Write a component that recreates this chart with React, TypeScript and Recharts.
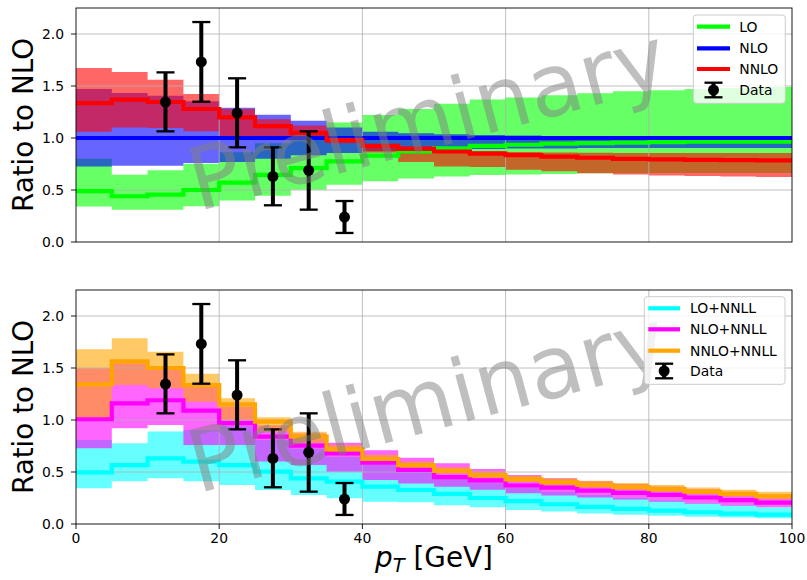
import React from 'react';
import { ComposedChart, Area, Line, Scatter, ErrorBar, XAxis, YAxis, ReferenceLine } from 'recharts';

const FONT = '"DejaVu Sans", Verdana, sans-serif';

// bin left edges (GeV), last edge at 100
const binLeft = [0, 5, 10, 15, 20, 25, 30, 35, 40, 45, 50, 55, 60, 65, 70, 75, 80, 85, 90, 95];
const xEnd = 100;
const xTicks = [0, 20, 40, 60, 80, 100];
const yTicks = [0, 0.5, 1.0, 1.5, 2.0];

// ---- top panel: fixed order ----
const loC = [0.49, 0.44, 0.455, 0.5, 0.57, 0.645, 0.71, 0.775, 0.83, 0.87, 0.9, 0.925, 0.935, 0.945, 0.95, 0.955, 0.96, 0.965, 0.965, 0.965];
const loHi = [0.8, 0.647, 0.689, 0.753, 0.862, 0.95, 1.05, 1.15, 1.22, 1.28, 1.33, 1.37, 1.39, 1.41, 1.43, 1.45, 1.46, 1.47, 1.48, 1.49];
const loLo = [0.342, 0.31, 0.31, 0.343, 0.4, 0.445, 0.503, 0.55, 0.583, 0.61, 0.63, 0.645, 0.65, 0.655, 0.66, 0.66, 0.663, 0.663, 0.663, 0.663];

const nloC = [1, 1, 1, 1, 1, 1, 1, 1, 1, 1, 1, 1, 1, 1, 1, 1, 1, 1, 1, 1];
const nloHi = [1.47, 1.433, 1.407, 1.353, 1.29, 1.224, 1.166, 1.1, 1.06, 1.045, 1.035, 1.03, 1.025, 1.02, 1.02, 1.02, 1.02, 1.02, 1.02, 1.02];
const nloLo = [0.727, 0.734, 0.734, 0.76, 0.77, 0.8, 0.835, 0.855, 0.875, 0.885, 0.89, 0.895, 0.9, 0.9, 0.905, 0.905, 0.905, 0.905, 0.905, 0.905];

const nnloC = [1.336, 1.369, 1.346, 1.279, 1.199, 1.115, 1.05, 0.98, 0.925, 0.895, 0.87, 0.85, 0.835, 0.82, 0.81, 0.8, 0.795, 0.79, 0.787, 0.785];
const nnloHi = [1.673, 1.635, 1.561, 1.423, 1.28, 1.18, 1.12, 1.0, 0.94, 0.92, 0.895, 0.875, 0.865, 0.86, 0.857, 0.855, 0.855, 0.855, 0.855, 0.855];
const nnloLo = [1.06, 1.1, 1.096, 1.064, 1.016, 1.01, 1.0, 0.95, 0.86, 0.77, 0.727, 0.72, 0.695, 0.68, 0.66, 0.65, 0.64, 0.635, 0.63, 0.625];

// ---- bottom panel: matched to NNLL ----
const loResC = [0.497, 0.567, 0.631, 0.6, 0.567, 0.503, 0.439, 0.407, 0.359, 0.327, 0.29, 0.25, 0.22, 0.19, 0.165, 0.145, 0.128, 0.113, 0.1, 0.09];
const loResHi = [0.808, 0.776, 0.89, 0.904, 0.94, 0.81, 0.727, 0.647, 0.567, 0.505, 0.45, 0.4, 0.35, 0.31, 0.28, 0.25, 0.225, 0.2, 0.18, 0.16];
const loResLo = [0.343, 0.41, 0.439, 0.41, 0.375, 0.327, 0.279, 0.247, 0.215, 0.21, 0.18, 0.16, 0.135, 0.12, 0.1, 0.09, 0.08, 0.07, 0.062, 0.055];

const nloResC = [1.007, 1.16, 1.19, 1.09, 0.97, 0.84, 0.753, 0.68, 0.59, 0.52, 0.45, 0.42, 0.37, 0.35, 0.32, 0.3, 0.28, 0.255, 0.23, 0.205];
const nloResHi = [1.497, 1.545, 1.487, 1.33, 1.13, 0.95, 0.87, 0.782, 0.71, 0.638, 0.585, 0.53, 0.47, 0.44, 0.41, 0.385, 0.36, 0.335, 0.31, 0.285];
const nloResLo = [0.728, 0.92, 0.952, 0.76, 0.76, 0.6, 0.567, 0.503, 0.423, 0.39, 0.358, 0.33, 0.295, 0.275, 0.255, 0.235, 0.215, 0.195, 0.175, 0.16];

const nnloResC = [1.343, 1.564, 1.5, 1.335, 1.15, 0.985, 0.84, 0.718, 0.625, 0.565, 0.51, 0.47, 0.43, 0.4, 0.375, 0.355, 0.335, 0.31, 0.29, 0.265];
const nnloResHi = [1.68, 1.785, 1.657, 1.445, 1.21, 1.026, 0.888, 0.76, 0.665, 0.6, 0.545, 0.505, 0.465, 0.44, 0.415, 0.395, 0.375, 0.35, 0.33, 0.31];
const nnloResLo = [1.02, 1.337, 1.305, 1.176, 1.0, 0.888, 0.78, 0.67, 0.59, 0.535, 0.485, 0.445, 0.405, 0.375, 0.35, 0.33, 0.31, 0.285, 0.265, 0.24];

// ---- data points ----
const dataX = [12.5, 17.5, 22.5, 27.5, 32.5, 37.5];
const dataY = [1.346, 1.731, 1.24, 0.631, 0.689, 0.24];
const dataUp = [1.631, 2.115, 1.574, 0.91, 1.064, 0.394];
const dataDown = [1.064, 1.349, 0.91, 0.353, 0.311, 0.087];

type Spec = { key: string; label: string; color: string; c: number[]; lo: number[]; hi: number[] };

const topSpecs: Spec[] = [
  { key: 'lo', label: 'LO', color: '#00ff00', c: loC, lo: loLo, hi: loHi },
  { key: 'nlo', label: 'NLO', color: '#0000ff', c: nloC, lo: nloLo, hi: nloHi },
  { key: 'nnlo', label: 'NNLO', color: '#ff0000', c: nnloC, lo: nnloLo, hi: nnloHi },
];
const botSpecs: Spec[] = [
  { key: 'lor', label: 'LO+NNLL', color: '#00ffff', c: loResC, lo: loResLo, hi: loResHi },
  { key: 'nlor', label: 'NLO+NNLL', color: '#ff00ff', c: nloResC, lo: nloResLo, hi: nloResHi },
  { key: 'nnlor', label: 'NNLO+NNLL', color: '#ffa500', c: nnloResC, lo: nnloResLo, hi: nnloResHi },
];

function buildRows(specs: Spec[]) {
  const xs = [...binLeft, xEnd];
  return xs.map((x, j) => {
    const i = Math.min(j, binLeft.length - 1);
    const row: any = { x };
    specs.forEach((s) => {
      row[s.key] = s.c[i];
      row[s.key + 'Band'] = [s.lo[i], s.hi[i]];
    });
    return row;
  });
}

const points = dataX.map((x, i) => ({ x, y: dataY[i], err: [dataY[i] - dataDown[i], dataUp[i] - dataY[i]] }));

const tickStyle = { fill: '#000', fontSize: 13.9, fontFamily: FONT };

function Panel({ specs, top, height, xAxisHeight, showXLabels }: { specs: Spec[]; top: number; height: number; xAxisHeight: number; showXLabels: boolean }) {
  const rows = buildRows(specs);
  return (
    <div style={{ position: 'absolute', left: 0, top, width: 807, height }}>
      <ComposedChart width={807} height={height} data={rows} margin={{ top: 8, right: 15, bottom: 0, left: 0 }}>
        <XAxis
          dataKey="x"
          type="number"
          domain={[0, 100]}
          ticks={xTicks}
          interval={0}
          height={xAxisHeight}
          axisLine={false}
          tickLine={{ stroke: '#000', strokeWidth: 0.9 }}
          tickSize={5}
          tickMargin={4}
          tick={showXLabels ? tickStyle : false}
          allowDataOverflow
        />
        <YAxis
          type="number"
          domain={[0, 2.25]}
          ticks={yTicks}
          interval={0}
          width={76}
          axisLine={false}
          tickLine={{ stroke: '#000', strokeWidth: 0.9 }}
          tickSize={5}
          tickMargin={7}
          tick={tickStyle}
          tickFormatter={(v: number) => v.toFixed(1)}
          allowDataOverflow
        />
        {specs.map((s) => (
          <Area
            key={s.key + 'Band'}
            type="stepAfter"
            dataKey={s.key + 'Band'}
            stroke="none"
            fill={s.color}
            fillOpacity={0.6}
            dot={false}
            activeDot={false}
            isAnimationActive={false}
          />
        ))}
        {[20, 40, 60, 80].map((v) => (
          <ReferenceLine key={'gx' + v} x={v} stroke="#b0b0b0" strokeWidth={0.8} />
        ))}
        {[0.5, 1.0, 1.5, 2.0].map((v) => (
          <ReferenceLine key={'gy' + v} y={v} stroke="#b0b0b0" strokeWidth={0.8} />
        ))}
        {specs.map((s) => (
          <Line
            key={s.key}
            type="stepAfter"
            dataKey={s.key}
            stroke={s.color}
            strokeWidth={4.2}
            dot={false}
            activeDot={false}
            isAnimationActive={false}
          />
        ))}
        <Scatter
          data={points}
          dataKey="y"
          fill="#000"
          isAnimationActive={false}
          shape={(p: any) => <circle cx={p.cx} cy={p.cy} r={5.5} fill="#000" />}
        >
          <ErrorBar dataKey="err" direction="y" width={0} stroke="#000" strokeWidth={4} />
          <ErrorBar dataKey="err" direction="y" width={9} stroke="#000" strokeWidth={2.3} />
        </Scatter>
      </ComposedChart>
    </div>
  );
}

function Legend({ specs, x, y, w, h, lineX0, lineX1, textX, rows }: { specs: Spec[]; x: number; y: number; w: number; h: number; lineX0: number; lineX1: number; textX: number; rows: number[] }) {
  const cx = (lineX0 + lineX1) / 2;
  const dy = rows[3];
  return (
    <g>
      <rect x={x} y={y} width={w} height={h} rx={3} ry={3} fill="#ffffff" fillOpacity={0.8} stroke="#cccccc" strokeWidth={1} />
      {specs.map((s, i) => (
        <g key={s.key}>
          <line x1={lineX0} x2={lineX1} y1={rows[i]} y2={rows[i]} stroke={s.color} strokeWidth={4.2} />
          <text x={textX} y={rows[i] + 5} fontSize={13.9} fontFamily={FONT} fill="#000">{s.label}</text>
        </g>
      ))}
      <line x1={cx} x2={cx} y1={dy - 7.3} y2={dy + 7.3} stroke="#000" strokeWidth={4} />
      <line x1={cx - 9} x2={cx + 9} y1={dy - 7.3} y2={dy - 7.3} stroke="#000" strokeWidth={2.3} />
      <line x1={cx - 9} x2={cx + 9} y1={dy + 7.3} y2={dy + 7.3} stroke="#000" strokeWidth={2.3} />
      <circle cx={cx} cy={dy} r={5.5} fill="#000" />
      <text x={textX} y={dy + 5} fontSize={13.9} fontFamily={FONT} fill="#000">Data</text>
    </g>
  );
}

function Watermark({ cx, cy }: { cx: number; cy: number }) {
  return (
    <text
      x={cx}
      y={cy}
      textAnchor="middle"
      fontSize={87}
      fontFamily={FONT}
      fill="#808080"
      fillOpacity={0.5}
      transform={`rotate(-15 ${cx} ${cy})`}
    >
      Preliminary
    </text>
  );
}

export default function App() {
  return (
    <div style={{ position: 'absolute', left: 0, top: 0, width: 807, height: 580, background: '#fff', fontFamily: FONT }}>
      <Panel specs={topSpecs} top={0} height={270} xAxisHeight={28} showXLabels={false} />
      <Panel specs={botSpecs} top={282} height={298} xAxisHeight={56} showXLabels={true} />
      <svg width={807} height={580} style={{ position: 'absolute', left: 0, top: 0, pointerEvents: 'none' }}>
        <Watermark cx={435} cy={148} />
        <Watermark cx={435} cy={430} />
        <rect x={76} y={8} width={716} height={234} fill="none" stroke="#000" strokeWidth={0.9} />
        <rect x={76} y={290} width={716} height={234} fill="none" stroke="#000" strokeWidth={0.9} />
        <Legend specs={topSpecs} x={693.3} y={15} w={92} h={88.3} lineX0={697} lineX1={730} textX={739.3} rows={[26.7, 48.3, 69, 90]} />
        <Legend specs={botSpecs} x={644.3} y={296.7} w={140.7} h={87.6} lineX0={648.3} lineX1={680} textX={690} rows={[308.3, 329.3, 350.7, 371]} />
        <text x={22} y={125} />
        <text x={33.3} y={125} textAnchor="middle" fontSize={27.8} fontFamily={FONT} fill="#000" transform="rotate(-90 33.3 125)">Ratio to NLO</text>
        <text x={33.3} y={407} textAnchor="middle" fontSize={27.8} fontFamily={FONT} fill="#000" transform="rotate(-90 33.3 407)">Ratio to NLO</text>
        <text x={434} y={567} textAnchor="middle" fontSize={27.8} fontFamily={FONT} fill="#000">
          <tspan fontStyle="italic">p</tspan>
          <tspan fontStyle="italic" fontSize={19.5} dy={5}>T</tspan>
          <tspan dy={-5}> [GeV]</tspan>
        </text>
      </svg>
    </div>
  );
}
